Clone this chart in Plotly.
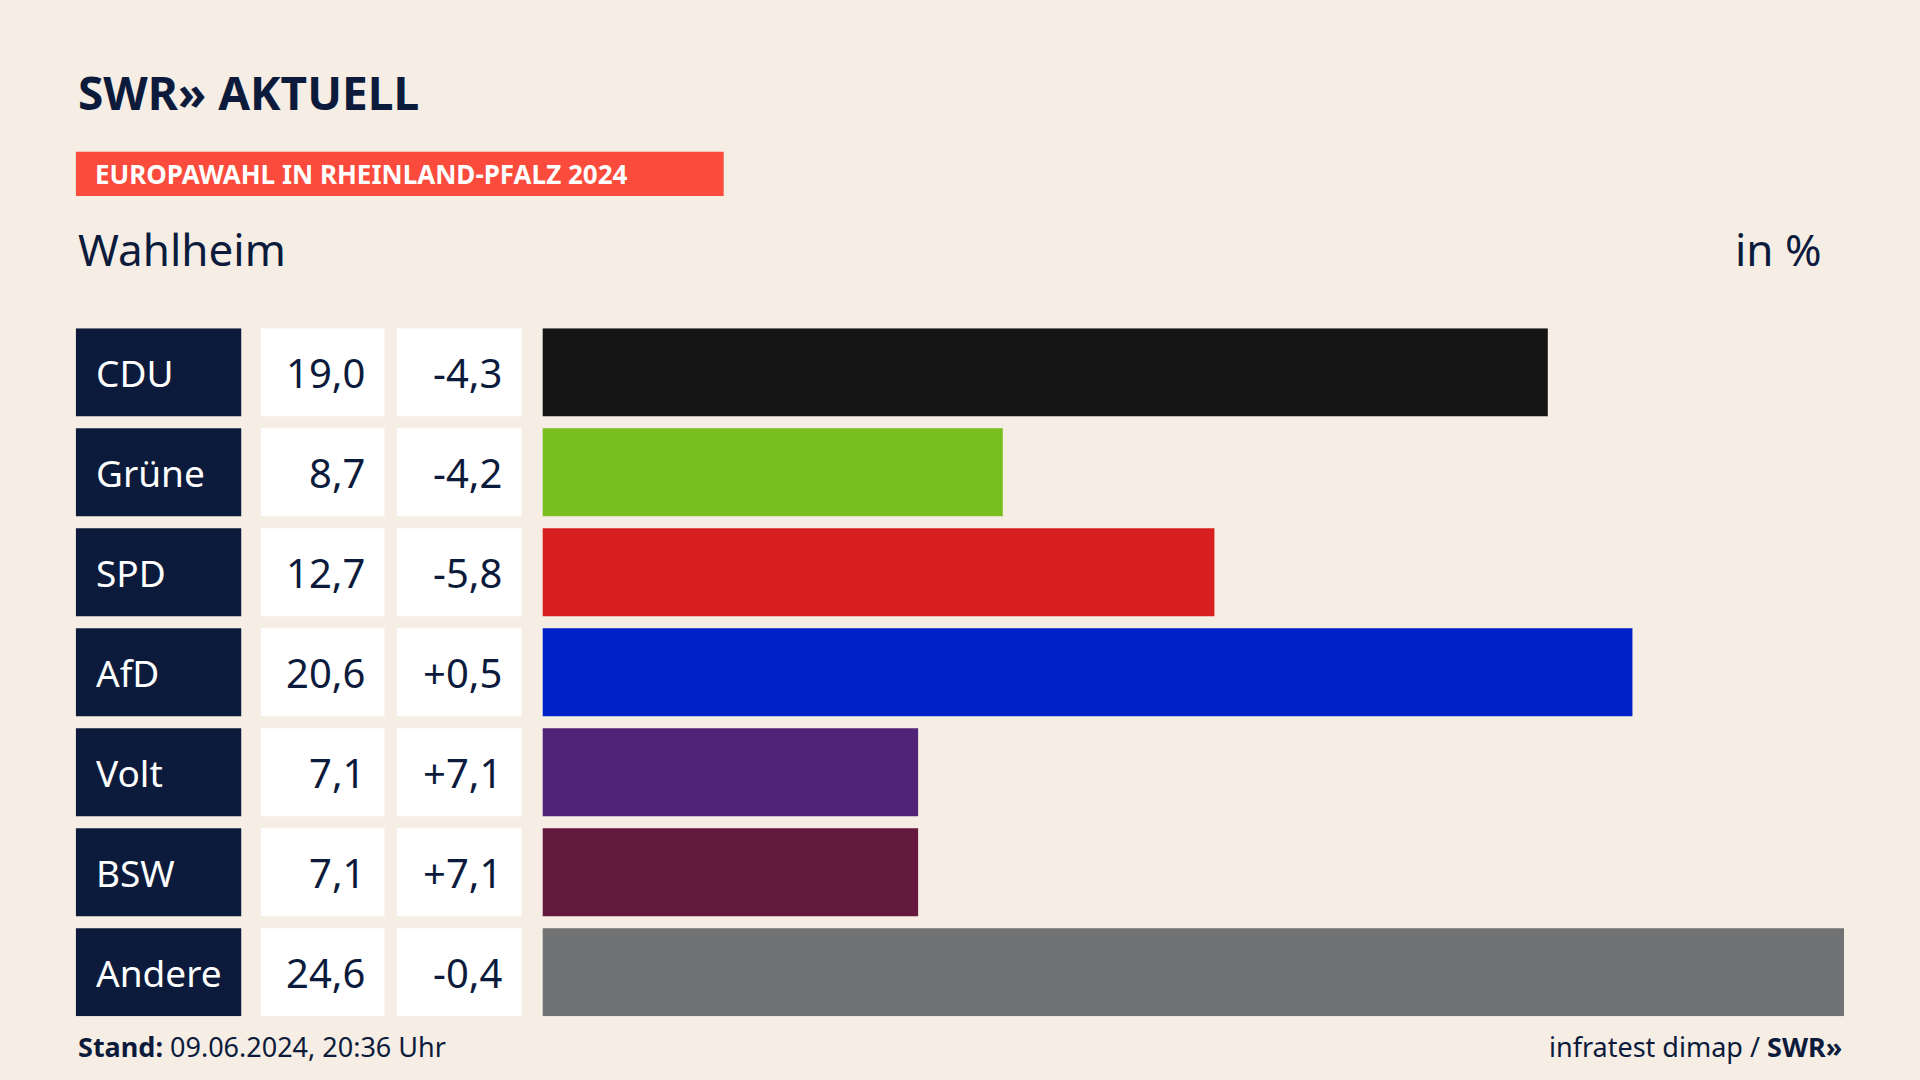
import plotly.graph_objects as go

parties = ["CDU", "Grüne", "SPD", "AfD", "Volt", "BSW", "Andere"]
values = [19.0, 8.7, 12.7, 20.6, 7.1, 7.1, 24.6]
diffs = ["-4,3", "-4,2", "-5,8", "+0,5", "+7,1", "+7,1", "-0,4"]
colors = ["#141414", "#78be1e", "#d71f1f", "#0021c7", "#502379", "#641a3e", "#717274"]

W, H = 1568, 882
def px(x): return x / W
def py(y): return 1 - y / H

NAVY = "#0c1b3c"
FONT = "Noto Sans"
HB = 0.4408
idx = list(range(len(parties)))

fig = go.Figure(go.Bar(
    x=values, y=idx, orientation="h", marker=dict(color=colors, line=dict(width=0)),
    width=2 * HB, hoverinfo="skip"))

shapes, ann = [], []
for i, (p, v, d) in enumerate(zip(parties, values, diffs)):
    for (x0, x1, c) in [(62, 197, NAVY), (213, 314, "white"), (324, 426, "white")]:
        shapes.append(dict(type="rect", xref="paper", yref="y", x0=px(x0), x1=px(x1),
                           y0=i - HB, y1=i + HB, fillcolor=c, line=dict(width=0), layer="below"))
    ann.append(dict(xref="paper", yref="y", x=px(77), y=i, text=p, showarrow=False, xanchor="left",
                    font=dict(family=FONT, size=37, color="white")))
    ann.append(dict(xref="paper", yref="y", x=px(300), y=i, text=f"{v:.1f}".replace(".", ","), showarrow=False,
                    xanchor="right", font=dict(family=FONT, size=40, color=NAVY)))
    ann.append(dict(xref="paper", yref="y", x=px(412), y=i, text=d, showarrow=False,
                    xanchor="right", font=dict(family=FONT, size=40, color=NAVY)))

shapes.append(dict(type="rect", xref="paper", yref="paper", x0=px(62), x1=px(591), y0=py(160), y1=py(124),
                   fillcolor="#fa4b3c", line=dict(width=0)))
ann += [
    dict(xref="paper", yref="paper", x=px(62), y=py(75), text="<b>SWR» AKTUELL</b>", showarrow=False,
         xanchor="left", yanchor="middle", font=dict(family=FONT, size=46, color=NAVY)),
    dict(xref="paper", yref="paper", x=px(76), y=py(142), text="<b>EUROPAWAHL IN RHEINLAND-PFALZ 2024</b>",
         showarrow=False, xanchor="left", yanchor="middle", font=dict(family=FONT, size=26, color="white")),
    dict(xref="paper", yref="paper", x=px(62), y=py(203), text="Wahlheim", showarrow=False,
         xanchor="left", yanchor="middle", font=dict(family=FONT, size=44, color=NAVY)),
    dict(xref="paper", yref="paper", x=px(1490), y=py(203), text="in %", showarrow=False,
         xanchor="right", yanchor="middle", font=dict(family=FONT, size=44, color=NAVY)),
    dict(xref="paper", yref="paper", x=px(62), y=py(855), text="<b>Stand:</b> 09.06.2024, 20:36 Uhr",
         showarrow=False, xanchor="left", yanchor="middle", font=dict(family=FONT, size=27, color=NAVY)),
    dict(xref="paper", yref="paper", x=px(1506), y=py(855), text="infratest dimap / <b>SWR»</b>",
         showarrow=False, xanchor="right", yanchor="middle", font=dict(family=FONT, size=27, color=NAVY)),
]

fig.update_layout(
    width=1920, height=1080, margin=dict(l=0, r=0, t=0, b=0),
    paper_bgcolor="#f6eee4", plot_bgcolor="rgba(0,0,0,0)", showlegend=False,
    xaxis=dict(domain=[px(443), px(1506)], range=[0, 24.6], visible=False, fixedrange=True),
    yaxis=dict(domain=[py(830), py(268)], range=[6 + HB, -HB], visible=False, fixedrange=True),
    shapes=shapes, annotations=ann)

fig.write_html("out.html", config={"displayModeBar": False},
               post_script="document.body.style.margin='0';document.body.style.background='#f6eee4';")
